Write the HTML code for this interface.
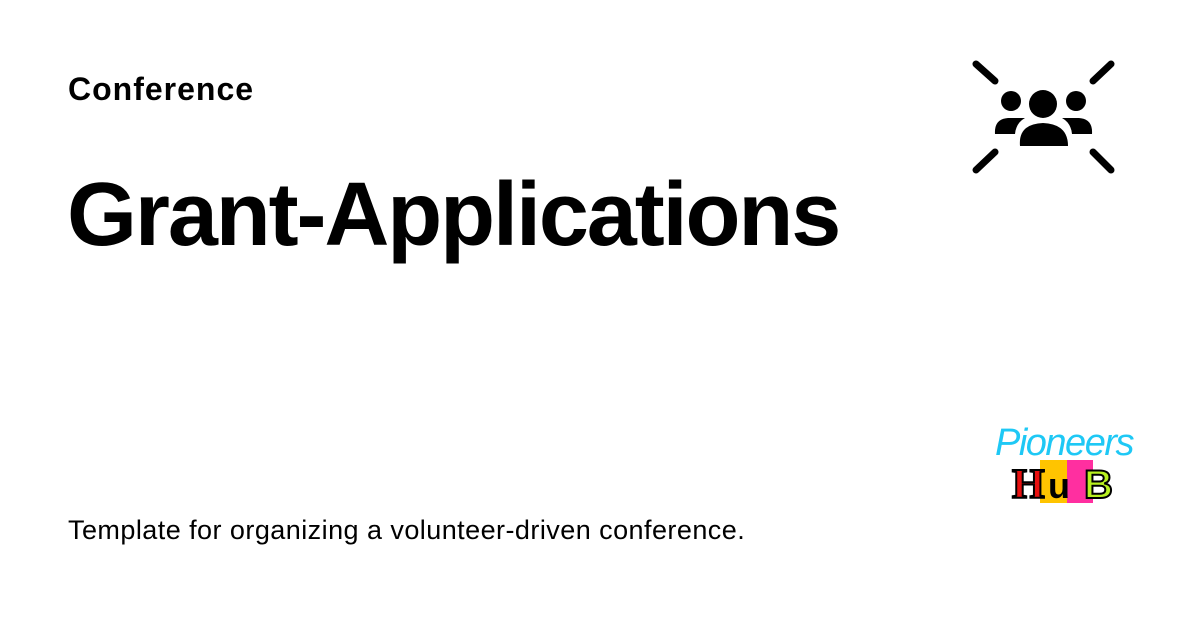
<!DOCTYPE html>
<html><head><style>
body{margin:0;width:1200px;height:630px;background:#fff;position:relative;overflow:hidden;font-family:"Liberation Sans",sans-serif;color:#000}
.a{position:absolute;white-space:nowrap}
</style></head><body>
<div class="a" style="left:68px;top:71px;font-size:32px;font-weight:bold;letter-spacing:1px">Conference</div>
<div class="a" style="left:67px;top:164px;font-size:90px;font-weight:bold;letter-spacing:-2.1px">Grant-Applications</div>
<div class="a" style="left:68px;top:515px;font-size:27px;letter-spacing:0.45px">Template for organizing a volunteer-driven conference.</div>
<svg class="a" style="left:0;top:0" width="1200" height="630">
<g stroke="#000" stroke-width="7" stroke-linecap="round">
<line x1="976" y1="64" x2="995" y2="81"/><line x1="1111" y1="64" x2="1093" y2="81"/>
<line x1="976" y1="170" x2="995" y2="152"/><line x1="1111" y1="170" x2="1093" y2="152"/>
</g>
<circle cx="1011" cy="101" r="10"/><circle cx="1043" cy="104" r="14"/><circle cx="1076" cy="101" r="10"/>
<path d="M1020 146 Q1018 124 1043 123 Q1068 124 1068 146 Z"/>
<path d="M995 134 Q994 119 1008 118 L1025 118 Q1016 123 1015 134 Z"/>
<path d="M1092 134 Q1093 119 1079 118 L1062 118 Q1071 123 1072 134 Z"/>
<rect x="1040" y="460" width="27" height="43" fill="#ffc400"/>
<rect x="1067" y="460" width="26" height="43" fill="#ff2fa0"/>
<text x="995" y="455" font-family="Liberation Sans" font-style="italic" font-size="38" fill="#1ec8f5" letter-spacing="-1.5">Pioneers</text>
<text x="1012" y="498" font-family="Liberation Serif" font-weight="bold" font-size="42" fill="#e81010" stroke="#000" stroke-width="2">H</text>
<text x="1048" y="498" font-family="Liberation Sans" font-weight="bold" font-size="36" fill="#000">u</text>
<text x="1084" y="498" font-family="Liberation Sans" font-weight="bold" font-size="40" fill="#b8f020" stroke="#000" stroke-width="2">B</text>
</svg>
</body></html>
